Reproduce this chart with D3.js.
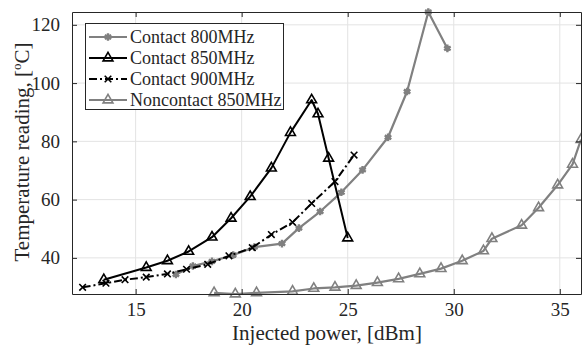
<!DOCTYPE html>
<html><head><meta charset="utf-8">
<script src="https://cdn.jsdelivr.net/npm/d3@7"></script>
<style>body{margin:0;background:#fff}svg{display:block}text{font-family:"Liberation Serif","Times New Roman",serif;fill:#262626}</style>
</head><body><svg id="c" width="582" height="345"></svg>
<script>
const xTicks = [15, 20, 25, 30, 35];
const yTicks = [40, 60, 80, 100, 120];

const c800x = [16.9, 17.7, 18.6, 19.6, 20.6, 21.9, 22.7, 23.7, 24.7, 25.7, 26.9, 27.8, 28.8, 29.7];
const c800y = [34.3, 37.2, 38.8, 41.0, 43.7, 44.9, 50.2, 55.9, 62.5, 70.2, 81.4, 97.1, 124.4, 111.9];

const c850x = [13.5, 15.5, 16.5, 17.5, 18.6, 19.5, 20.4, 21.4, 22.3, 23.3, 23.6, 24.1, 25.0];
const c850y = [32.5, 36.7, 39.0, 42.2, 47.1, 53.6, 61.0, 70.8, 83.0, 94.2, 89.4, 74.2, 46.8];

const c900x = [12.5, 13.6, 14.5, 15.5, 16.5, 17.4, 18.4, 19.4, 20.5, 21.4, 22.4, 23.3, 24.4, 25.3];
const c900y = [29.9, 31.3, 32.5, 33.4, 34.5, 36.1, 37.8, 40.7, 43.5, 48.0, 52.2, 58.7, 66.2, 75.3];

const n850x = [18.7, 19.7, 20.7, 22.4, 23.4, 24.4, 25.4, 26.4, 27.4, 28.4, 29.4, 30.4, 31.4, 31.8, 33.2, 34.0, 34.9, 35.6, 36.0];
const n850y = [28.0, 27.6, 28.0, 28.5, 29.5, 29.9, 30.5, 31.5, 32.8, 34.5, 36.3, 39.0, 42.4, 46.6, 51.2, 57.2, 65.0, 72.1, 80.6];

const labels = ["Contact 800MHz", "Contact 850MHz", "Contact 900MHz", "Noncontact 850MHz"];

const svg = d3.select("#c");
const L = 72, R = 581, T = 12, B = 294;
const x = d3.scaleLinear().domain([12, 36]).range([L, R]);
const y = d3.scaleLinear().domain([27.6, 124.4]).range([B, T]);

// grid
const g = svg.append("g");
g.selectAll(".gx").data(xTicks).enter().append("line")
  .attr("x1", d => x(d)).attr("x2", d => x(d)).attr("y1", T).attr("y2", B)
  .attr("stroke", "#e3e3e3").attr("stroke-width", 1);
g.selectAll(".gy").data(yTicks).enter().append("line")
  .attr("y1", d => y(d)).attr("y2", d => y(d)).attr("x1", L).attr("x2", R)
  .attr("stroke", "#e3e3e3").attr("stroke-width", 1);

const series = [
  {xs: c800x, ys: c800y, color: "#808080", dash: null, marker: "ast", w: 2.2},
  {xs: c850x, ys: c850y, color: "#000", dash: null, marker: "tri", w: 2},
  {xs: c900x, ys: c900y, color: "#000", dash: "8,3,2,3", marker: "x", w: 2},
  {xs: n850x, ys: n850y, color: "#808080", dash: null, marker: "tri", w: 2.2}
];

const line = d3.line().x(d => x(d[0])).y(d => y(d[1]));

function drawMarker(sel, type, color) {
  if (type === "tri") {
    sel.append("path").attr("d", d3.symbol(d3.symbolTriangle, 42)())
      .attr("fill", "none").attr("stroke", color).attr("stroke-width", 1.6);
  } else if (type === "ast") {
    sel.append("path").attr("d", d3.symbol(d3.symbolAsterisk, 40)())
      .attr("fill", "none").attr("stroke", color).attr("stroke-width", 2.4);
    sel.append("circle").attr("r", 2.6).attr("fill", color);
  } else {
    sel.append("path").attr("d", d3.symbol(d3.symbolTimes, 30)())
      .attr("fill", "none").attr("stroke", color).attr("stroke-width", 1.6);
  }
}

const plot = svg.append("g");
series.forEach(s => {
  const pts = s.xs.map((v, i) => [v, s.ys[i]]);
  plot.append("path").datum(pts).attr("d", line)
    .attr("fill", "none").attr("stroke", s.color).attr("stroke-width", s.w)
    .attr("stroke-dasharray", s.dash).attr("stroke-linejoin", "round");
  plot.selectAll(null).data(pts).enter().append("g")
    .attr("transform", d => `translate(${x(d[0])},${y(d[1])})`)
    .each(function() { drawMarker(d3.select(this), s.marker, s.color); });
});

// axes
const ax = svg.append("g");
const fmt = d3.format("d");
ax.append("g").attr("transform", `translate(0,${B})`)
  .call(d3.axisBottom(x).tickValues(xTicks).tickSizeInner(-5).tickSizeOuter(0).tickPadding(9).tickFormat(fmt));
ax.append("g").attr("transform", `translate(0,${T})`)
  .call(d3.axisTop(x).tickValues(xTicks).tickSizeInner(-5).tickSizeOuter(0).tickFormat(""));
ax.append("g").attr("transform", `translate(${L},0)`)
  .call(d3.axisLeft(y).tickValues(yTicks).tickSizeInner(-5).tickSizeOuter(0).tickPadding(12).tickFormat(fmt));
ax.append("g").attr("transform", `translate(${R},0)`)
  .call(d3.axisRight(y).tickValues(yTicks).tickSizeInner(-5).tickSizeOuter(0).tickFormat(""));
ax.selectAll(".domain").attr("stroke", "#262626").attr("stroke-width", 1);
ax.selectAll(".tick line").attr("stroke", "#262626").attr("stroke-width", 1);
ax.selectAll(".tick text").attr("font-size", 19).attr("font-family", "Liberation Serif").attr("fill", "#262626");

// axis titles
svg.append("text").attr("x", 327).attr("y", 340).attr("text-anchor", "middle")
  .attr("font-size", 21).text("Injected power, [dBm]");
const yl = svg.append("text").attr("transform", "translate(29,152) rotate(-90)")
  .attr("text-anchor", "middle").attr("font-size", 21);
yl.append("tspan").text("Temperature reading, [");
yl.append("tspan").attr("font-size", 13).attr("dy", -8).text("o");
yl.append("tspan").attr("dy", 8).text("C]");

// legend
const lg = svg.append("g");
lg.append("rect").attr("x", 85.5).attr("y", 23.5).attr("width", 198).attr("height", 86)
  .attr("fill", "#fff").attr("stroke", "#262626").attr("stroke-width", 1);
labels.forEach((lab, i) => {
  const s = series[i];
  const ly = 37 + i * 21;
  lg.append("line").attr("x1", 89).attr("x2", 127).attr("y1", ly).attr("y2", ly)
    .attr("stroke", s.color).attr("stroke-width", s.w).attr("stroke-dasharray", s.dash);
  const m = lg.append("g").attr("transform", `translate(108,${ly})`);
  drawMarker(m, s.marker, s.color);
  lg.append("text").attr("x", 130).attr("y", ly + 6).attr("font-size", 18).text(lab);
});
</script></body></html>
